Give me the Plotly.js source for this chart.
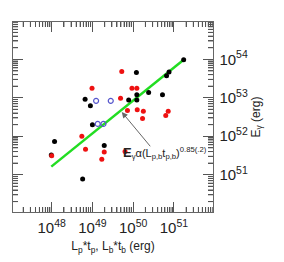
<!DOCTYPE html>
<html>
<head>
<meta charset="utf-8">
<script src="https://cdn.plot.ly/plotly-3.0.1.min.js"></script>
<style>html,body{margin:0;padding:0;background:#fff}#chart{width:284px;height:262px}</style>
</head>
<body>
<div id="chart"></div>
<script>
// Black points (log10 values)
var blackLogX = [51.24, 50.08, 50.88, 50.82, 50.09, 50.38, 50.72, 49.89, 50.09, 48.82, 48.95, 49.00, 48.07, 49.29, 47.99, 48.76];
var blackLogY = [53.99, 53.66, 53.67, 53.57, 53.08, 53.14, 53.08, 52.94, 52.94, 52.96, 52.79, 52.30, 51.86, 51.76, 51.51, 50.89];
// Red points
var redLogX = [49.72, 48.99, 49.97, 50.09, 49.69, 49.86, 50.10, 50.25, 50.23, 50.86, 50.80, 48.74, 48.83, 49.29, 49.23, 49.80, 48.00];
var redLogY = [53.68, 53.25, 53.25, 53.25, 52.99, 52.67, 52.69, 52.65, 52.46, 52.65, 52.54, 52.00, 51.66, 51.59, 51.40, 51.60, 51.49];
// Blue open circles
var blueLogX = [49.09, 49.45, 49.13, 49.27];
var blueLogY = [52.92, 52.92, 52.32, 52.32];
// Fit line endpoints
var fitLogX = [47.99, 51.24];
var fitLogY = [51.21, 53.99];
// Annotation (arrow head on line, arrow tail near label)
var arrowHead = [49.72, 52.63];
var arrowTail = [50.45, 51.70];
var labelPos = [49.70, 51.56];
var labelText = '<b><span style="font-size:13px">E</span></b><sub>γ</sub>α(L<sub>p,b</sub>t<sub>p,b</sub>)<sup>0.85(.2)</sup>';

var xRange = [47.05, 51.96];
var yRange = [50.03, 54.97];

function pow10(a){ return a.map(function(v){ return Math.pow(10, v); }); }
function minorVals(lo, hi){
  var out = [];
  for (var d = Math.floor(lo); d <= Math.ceil(hi); d++) {
    for (var m = 2; m <= 9; m++) {
      var lv = d + Math.log10(m);
      if (lv > lo && lv < hi) out.push(Math.pow(10, lv));
    }
  }
  return out;
}

var traces = [
  {x: pow10(fitLogX), y: pow10(fitLogY), mode: 'lines', line: {color: '#22dd22', width: 2.5}, hoverinfo: 'skip'},
  {x: pow10(blackLogX), y: pow10(blackLogY), mode: 'markers', marker: {color: '#000000', size: 5}},
  {x: pow10(redLogX), y: pow10(redLogY), mode: 'markers', marker: {color: '#ee1111', size: 5}},
  {x: pow10(blueLogX), y: pow10(blueLogY), mode: 'markers', marker: {symbol: 'circle-open', color: '#5555cc', size: 5, line: {width: 1.2}}}
];

var fontFam = 'Liberation Sans, Arial, sans-serif';
var axisCommon = {
  type: 'log', dtick: 1, exponentformat: 'power', showgrid: true, gridcolor: 'rgba(0,0,0,0)', zeroline: false,
  showline: true, linecolor: '#666', linewidth: 1, mirror: 'allticks',
  ticks: 'inside', ticklen: 10, tickcolor: '#555', tickwidth: 1,
  minor: {ticks: 'inside', ticklen: 5, tickcolor: '#555', tickwidth: 1, showgrid: true, gridcolor: 'rgba(0,0,0,0)'},
  tickfont: {family: fontFam, size: 12, color: '#222'}
};

// Minor tick marks drawn as short lines on the four frame sides (data coords on x/y, paper on other)
var tickShapes = [];
var tx = 5 / 200, ty = 5 / 190;
minorVals(xRange[0], xRange[1]).forEach(function(v){
  tickShapes.push({type: 'line', xref: 'x', yref: 'paper', x0: v, x1: v, y0: 0, y1: ty, line: {color: '#555', width: 1}});
  tickShapes.push({type: 'line', xref: 'x', yref: 'paper', x0: v, x1: v, y0: 1 - ty, y1: 1, line: {color: '#555', width: 1}});
});
minorVals(yRange[0], yRange[1]).forEach(function(v){
  tickShapes.push({type: 'line', xref: 'paper', yref: 'y', y0: v, y1: v, x0: 0, x1: tx, line: {color: '#555', width: 1}});
  tickShapes.push({type: 'line', xref: 'paper', yref: 'y', y0: v, y1: v, x0: 1 - tx, x1: 1, line: {color: '#555', width: 1}});
});

var layout = {
  width: 284, height: 262,
  margin: {l: 13, r: 71, t: 22, b: 50},
  paper_bgcolor: '#fff', plot_bgcolor: '#fff',
  showlegend: false,
  font: {family: fontFam, color: '#222'},
  xaxis: Object.assign({}, axisCommon, {
    range: xRange, side: 'bottom', ticklabelstandoff: 3,
    title: {text: 'L<sub>p</sub>*t<sub>p</sub>, L<sub>b</sub>*t<sub>b</sub> (erg)', font: {size: 12}, standoff: 6}
  }),
  yaxis: Object.assign({}, axisCommon, {
    range: yRange, side: 'right', ticklabelstandoff: 3,
    title: {text: 'E<sub>γ</sub> (erg)', font: {size: 12}, standoff: 4}
  }),
  shapes: tickShapes,
  annotations: [
    {x: arrowHead[0], y: arrowHead[1], ax: arrowTail[0], ay: arrowTail[1], xref: 'x', yref: 'y', axref: 'x', ayref: 'y',
     text: '', showarrow: true, arrowhead: 2, arrowsize: 1.2, arrowwidth: 1, arrowcolor: '#666'},
    {x: labelPos[0], y: labelPos[1], xref: 'x', yref: 'y', xanchor: 'left', yanchor: 'middle',
     text: labelText, showarrow: false, font: {size: 11, color: '#222', family: fontFam}}
  ]
};

Plotly.newPlot('chart', traces, layout, {staticPlot: true, displayModeBar: false});
</script>
</body>
</html>
